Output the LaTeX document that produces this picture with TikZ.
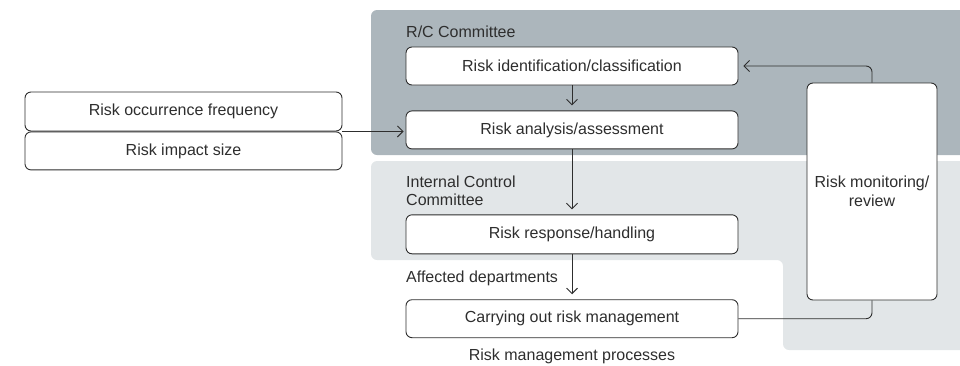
\documentclass[tikz,border=0pt]{standalone}
\usepackage{fontspec}
\setmainfont{Liberation Sans}
\usetikzlibrary{positioning,arrows.meta}
\definecolor{rcgrey}{HTML}{ACB6BC}
\definecolor{icgrey}{HTML}{E2E6E8}
\definecolor{ink}{HTML}{2E2E2E}

\begin{document}
\begin{tikzpicture}[x=1pt, y=-1pt,
box/.style={draw=ink, fill=white, rounded corners=6pt, line width=0.9pt, minimum width=332pt, minimum height=38pt, inner sep=0pt, text=ink},
tag/.style={inner sep=0pt, text=ink, align=left},
link/.style={draw=ink, line width=0.9pt},
>={Straight Barb[length=5.5pt,width=11pt]},
font=\fontsize{16}{18.5}\selectfont
]
\useasboundingbox (0,0) rectangle (960,365);
% committee areas
\begin{scope}
\clip (0,0) rectangle (960,365);
\fill[rcgrey, rounded corners=6pt] (371,10) rectangle (990,155);
\fill[icgrey, rounded corners=6pt] (990,161) -- (371,161) -- (371,260) -- (783,260) -- (783,350) -- (990,350) -- cycle;
\end{scope}

% process steps
\node[box] (ident) at (572,66) {Risk identification/classification};
\node[box, below=25pt of ident] (analysis) {Risk analysis/assessment};
\node[box, below=65pt of analysis, minimum height=39pt] (response) {Risk response/handling};
\node[box, below=45pt of response] (carry) {Carrying out risk management};
\node[box, minimum width=130pt, minimum height=217pt, align=center] (monitor) at (872,191.5) {Risk monitoring/\\review};

% inputs
\node[box, minimum width=317pt, minimum height=39pt] (freq) at (183.5,111.5) {Risk occurrence frequency};
\node[box, minimum width=317pt, below=0pt of freq] (impact) {Risk impact size};

% area labels
\node[tag, anchor=base west] (rc) at (406,37) {R/C Committee};
\node[tag, anchor=west] (ic) at (406,191) {Internal Control\\Committee};
\node[tag, anchor=base west] (dept) at (406,282) {Affected departments};
\node[tag, anchor=base] (proc) at (572,360) {Risk management processes};

\foreach \a/\b in {ident/analysis, analysis/response, response/carry}
  \draw[link, ->, shorten >=5pt] (\a) -- (\b);
\draw[link, ->, shorten >=2pt] (freq.south east) -- (freq.south east -| analysis.west);
\draw[link, ->, rounded corners=6pt, shorten >=5pt] (monitor.north) |- (ident.east);
\draw[link, rounded corners=6pt] (carry.east) -| (monitor.south);
\end{tikzpicture}
\end{document}
